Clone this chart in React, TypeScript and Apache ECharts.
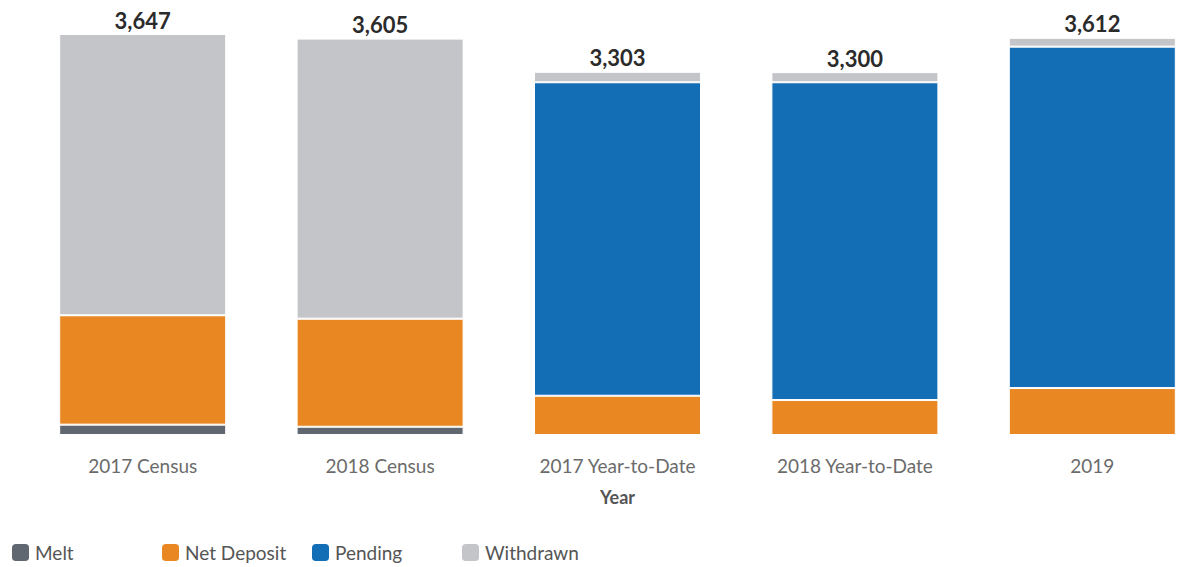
import React, { useEffect, useRef } from "react";
import * as echarts from "echarts";

const categories = ["2017 Census", "2018 Census", "2017 Year-to-Date", "2018 Year-to-Date", "2019"];
const seriesNames = ["Melt", "Net Deposit", "Pending", "Withdrawn"];
const melt = [94, 75, 0, 0, 0];
const netDeposit = [995, 983, 357, 318, 427];
const pending = [0, 0, 2851, 2890, 3105];
const withdrawn = [2558, 2547, 95, 92, 80];
const totals = [3647, 3605, 3303, 3300, 3612];

const colors = ["#606770", "#E98823", "#136EB6", "#C4C5C9"];

export default function App() {
  const ref = useRef<HTMLDivElement>(null);
  useEffect(() => {
    if (!ref.current) return;
    const chart = echarts.init(ref.current, null, { renderer: "svg" });
    const font = "Lato, 'Noto Sans', sans-serif";
    const mk = (name: string, data: number[], color: string, withLabel = false) => ({
      name,
      type: "bar",
      stack: "total",
      barWidth: 167,
      data,
      itemStyle: { color, borderColor: "#fff", borderWidth: 1 },
      label: withLabel
        ? {
            show: true,
            position: "top",
            distance: 3,
            formatter: (p: any) => totals[p.dataIndex].toLocaleString("en-US"),
            color: "#2b2b2b",
            fontWeight: "bold",
            fontSize: 22,
            fontFamily: font,
          }
        : { show: false },
    });
    const legends = seriesNames.map((n, i) => ({
      top: 537,
      left: 5 + i * 150,
      itemWidth: 19,
      itemHeight: 19,
      itemGap: 0,
      icon: "roundRect",
      textStyle: { color: "#555", fontSize: 19, fontFamily: font },
      data: [n],
    }));
    chart.setOption({
      animation: false,
      color: colors,
      textStyle: { fontFamily: font },
      grid: { left: 24, width: 1187, top: 34, bottom: 132, containLabel: false },
      legend: legends,
      xAxis: {
        type: "category",
        data: categories,
        axisLine: { show: false },
        axisTick: { show: false },
        axisLabel: { color: "#6b6b6b", fontSize: 19, margin: 21, fontFamily: font },
        name: "Year",
        nameLocation: "middle",
        nameGap: 53,
        nameTextStyle: { color: "#555", fontSize: 18, fontWeight: "bold", fontFamily: font },
      },
      yAxis: {
        type: "value",
        min: 0,
        max: 3647,
        show: false,
        splitLine: { show: false },
      },
      series: [
        mk(seriesNames[0], melt, colors[0]),
        mk(seriesNames[1], netDeposit, colors[1]),
        mk(seriesNames[2], pending, colors[2]),
        mk(seriesNames[3], withdrawn, colors[3], true),
      ],
    });
    return () => chart.dispose();
  }, []);
  return (
    <div
      style={{ position: "fixed", left: 0, top: 0, width: 1183, height: 567, overflow: "hidden", background: "#fff" }}
    >
      <div ref={ref} style={{ width: 1240, height: 567 }} />
    </div>
  );
}
